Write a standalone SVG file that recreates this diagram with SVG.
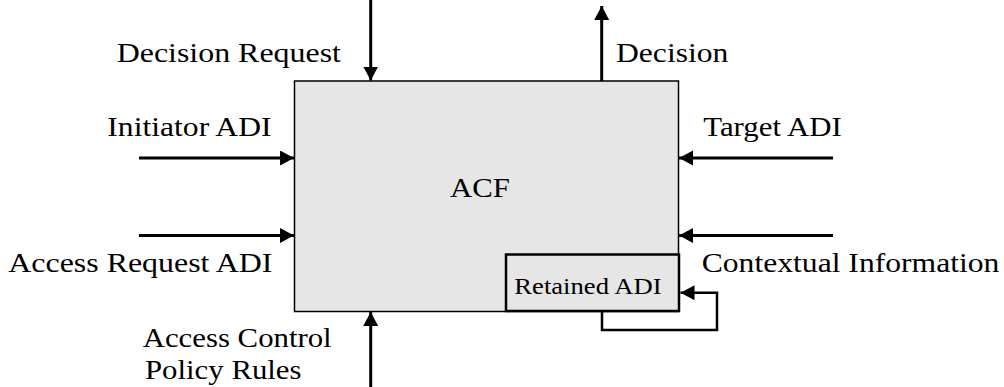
<svg xmlns="http://www.w3.org/2000/svg" width="1004" height="387" viewBox="0 0 1004 387">
  <style>
    text { font-family: 'Liberation Serif', 'Times New Roman', serif; font-size: 28px; fill: #000; }
    text.small { font-size: 23.8px; }
    .flow { stroke: #000; stroke-width: 3; fill: none; marker-end: url(#head); }
    .loop { stroke: #000; stroke-width: 2.5; fill: none; marker-end: url(#head); }
  </style>
  <defs>
    <marker id="head" markerUnits="userSpaceOnUse" markerWidth="15" markerHeight="16" refX="14" refY="7.5" orient="auto">
      <path d="M0,0 L14,7.5 L0,15 z" fill="#000"/>
    </marker>
  </defs>
  <rect width="1004" height="387" fill="#fff"/>

  <!-- access control function -->
  <g id="acf">
    <rect x="294.5" y="81" width="384" height="230.5" fill="#e6e6e6" stroke="#000" stroke-width="1.5"/>
    <text transform="translate(450,197.3) scale(1.1,1)">ACF</text>
  </g>

  <!-- retained ADI store -->
  <g id="retained-adi">
    <rect x="506" y="254.5" width="173" height="56.5" fill="#e6e6e6" stroke="#000" stroke-width="2.5"/>
    <text class="small" transform="translate(514.3,294) scale(1.12,1)">Retained ADI</text>
  </g>

  <!-- input / output labels (type set slightly wide) -->
  <g id="decision-request"><text transform="translate(116.7,61.7) scale(1.14,1)">Decision Request</text></g>
  <g id="decision"><text transform="translate(616,61.7) scale(1.13,1)">Decision</text></g>
  <g id="initiator-adi"><text transform="translate(107.3,136) scale(1.13,1)">Initiator ADI</text></g>
  <g id="target-adi"><text transform="translate(703.3,135.5) scale(1.1,1)">Target ADI</text></g>
  <g id="access-request-adi"><text transform="translate(8.3,271.7) scale(1.14,1)">Access Request ADI</text></g>
  <g id="contextual-information"><text transform="translate(701.7,271.7) scale(1.13,1)">Contextual Information</text></g>
  <g id="policy-rules">
    <text transform="translate(142.7,346.7) scale(1.1,1)">Access Control</text>
    <text transform="translate(145,379) scale(1.1,1)">Policy Rules</text>
  </g>

  <!-- connectors -->
  <g id="connectors">
    <line class="flow" x1="370.7" y1="0" x2="370.7" y2="80.5"/>
    <line class="flow" x1="601.7" y1="81" x2="601.7" y2="6"/>
    <line class="flow" x1="139" y1="158" x2="294" y2="158"/>
    <line class="flow" x1="139" y1="235.5" x2="294" y2="235.5"/>
    <line class="flow" x1="833" y1="158" x2="679" y2="158"/>
    <line class="flow" x1="833" y1="235.5" x2="679" y2="235.5"/>
    <line class="flow" x1="370.7" y1="387" x2="370.7" y2="312"/>
    <polyline class="loop" points="602,311 602,330 717,330 717,292.7 680.5,292.7"/>
  </g>
</svg>
